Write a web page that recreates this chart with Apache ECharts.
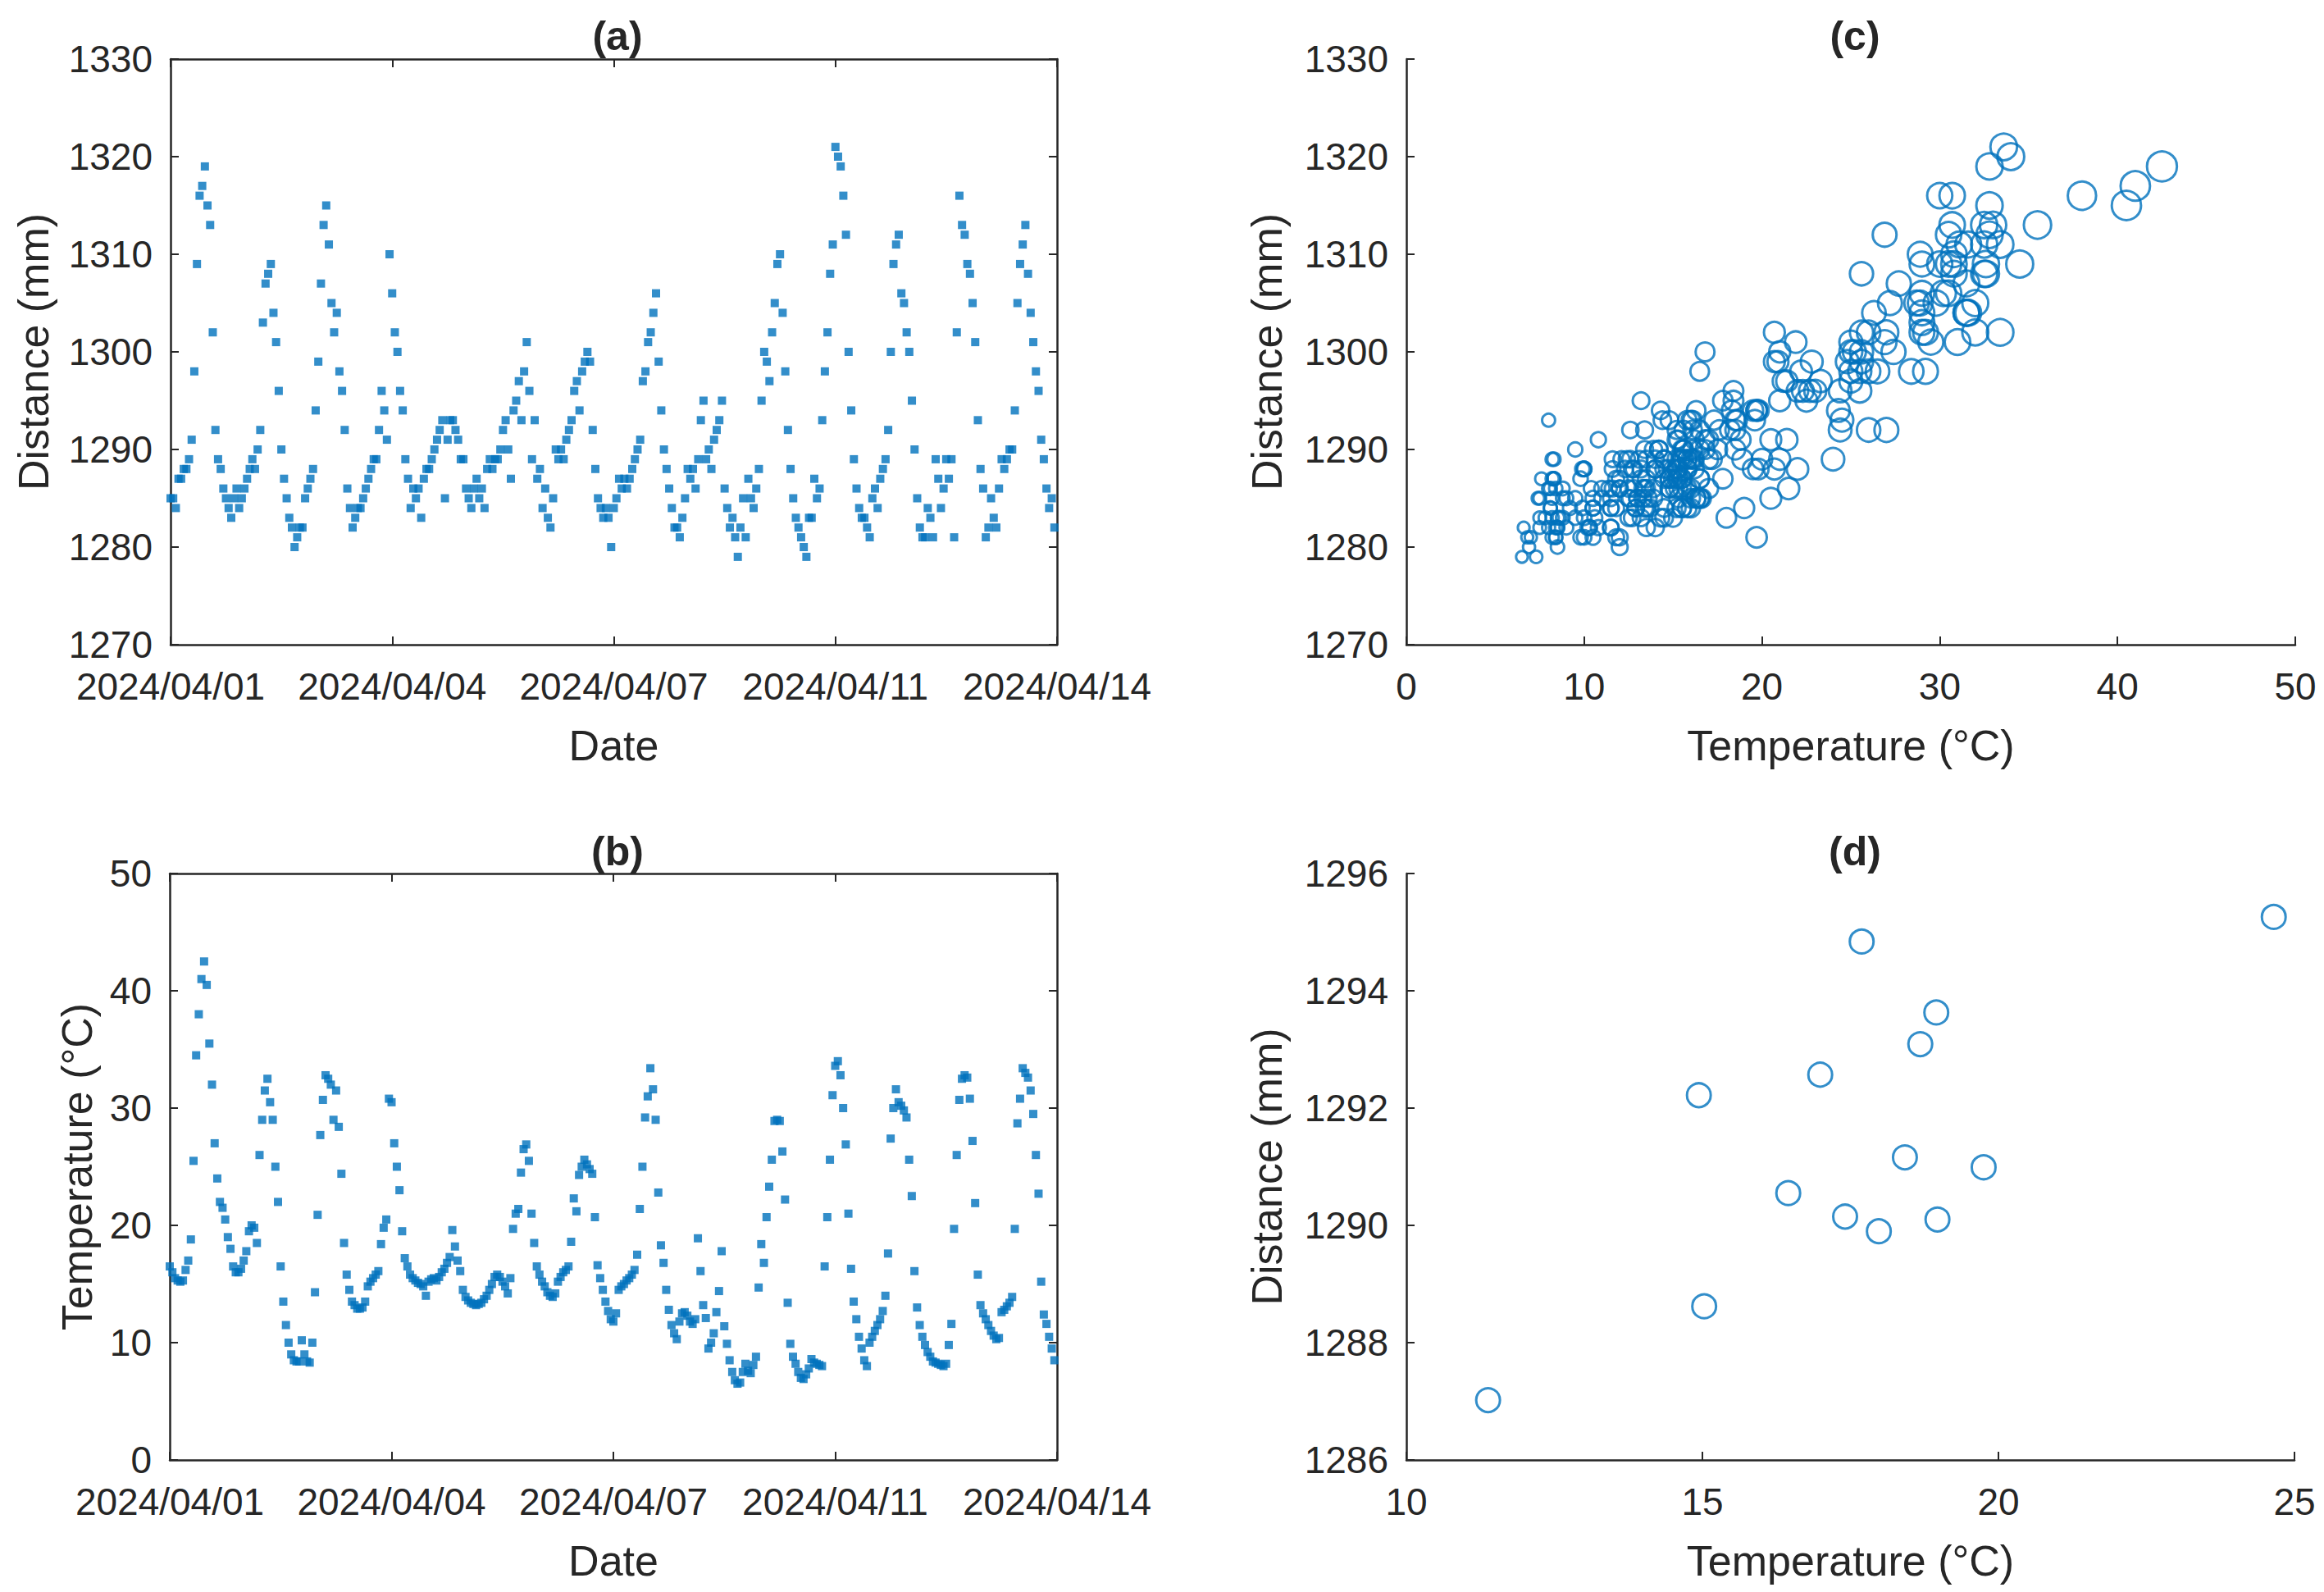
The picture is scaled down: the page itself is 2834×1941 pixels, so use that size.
<!DOCTYPE html>
<html>
<head>
<meta charset="utf-8">
<title>Distance and temperature</title>
<script src="https://cdn.jsdelivr.net/npm/echarts@6/dist/echarts.min.js"></script>
<style>
  html, body { margin: 0; padding: 0; background: #fff; }
  #chart { width: 2834px; height: 1941px; }
</style>
</head>
<body>
<div id="chart"></div>
<script>
// hourly samples, 2024/04/01 00:00 onwards (index = hour)
const dateTicks = ['2024/04/01', '2024/04/04', '2024/04/07', '2024/04/11', '2024/04/14']

const distance = [
  1285,1285,1284,1287,1287,1288,1288,1289,1291,1298,1309,1316,1317,1319,1315,1313,1302,1292,1289,1288,1286,1285,1284,1283,
  1285,1286,1284,1285,1286,1287,1288,1289,1288,1290,1292,1303,1307,1308,1309,1304,1301,1296,1290,1287,1285,1283,1282,1280,
  1281,1282,1282,1285,1286,1287,1288,1294,1299,1307,1313,1315,1311,1305,1302,1304,1298,1296,1292,1286,1284,1282,1283,1284,
  1284,1285,1286,1287,1288,1289,1289,1292,1296,1294,1291,1310,1306,1302,1300,1296,1294,1289,1287,1284,1286,1285,1286,1283,
  1287,1288,1288,1289,1290,1291,1292,1293,1285,1291,1293,1293,1292,1291,1289,1289,1286,1285,1284,1286,1287,1285,1286,1284,
  1288,1289,1288,1289,1289,1290,1292,1293,1290,1287,1294,1295,1297,1293,1298,1301,1296,1289,1293,1287,1288,1284,1286,1283,
  1282,1285,1290,1289,1290,1289,1291,1292,1293,1296,1297,1294,1298,1299,1300,1299,1292,1288,1285,1284,1283,1284,1283,1280,
  1284,1285,1287,1286,1287,1286,1287,1288,1289,1290,1291,1297,1298,1301,1302,1304,1306,1299,1294,1290,1288,1286,1284,1282,
  1282,1281,1283,1285,1288,1287,1288,1286,1289,1293,1295,1289,1290,1288,1291,1292,1293,1295,1286,1284,1282,1283,1281,1279,
  1282,1285,1281,1287,1285,1284,1286,1288,1295,1300,1299,1297,1302,1305,1309,1310,1304,1298,1292,1288,1285,1283,1282,1281,
  1280,1279,1283,1283,1287,1285,1286,1293,1298,1302,1308,1311,1321,1320,1319,1316,1312,1300,1294,1289,1286,1284,1283,1283,
  1282,1281,1285,1286,1284,1287,1288,1289,1292,1300,1309,1311,1312,1306,1305,1302,1300,1295,1290,1285,1282,1281,1281,1284,
  1283,1281,1289,1287,1284,1286,1289,1287,1289,1281,1302,1316,1313,1312,1309,1308,1305,1301,1293,1288,1286,1281,1282,1285,
  1283,1282,1286,1289,1288,1289,1290,1290,1294,1305,1309,1311,1313,1308,1304,1301,1298,1296,1291,1289,1286,1284,1285,1282
]

const temperature = [
  16.5,16,15.5,15.3,15.2,15.3,16.2,17,18.8,25.5,34.5,38,41,42.5,40.5,35.5,32,27,24,22,21.5,20.5,19,18,
  16.5,16,16,16.3,17,17.8,19.5,20,19.8,18.5,26,29,31.5,32.5,30.5,29,25,22,16.5,13.5,11.5,10,9,8.5,
  8.4,8.4,10.2,9,8.4,8.3,10,14.3,20.9,27.7,30.7,32.8,32.5,32,29,31.5,28.4,24.4,18.5,15.8,14.5,13.5,13.2,12.9,
  12.9,13,13.5,14.8,15.2,15.5,15.8,16.1,18.4,19.8,20.5,30.8,30.5,27,25,23,19.5,17.2,16.5,15.8,15.5,15.3,15.1,15,
  14.8,14,15.2,15.4,15.5,15.3,15.6,16,16.3,16.8,17.3,19.6,18.2,17,16.1,14.5,13.9,13.6,13.4,13.3,13.2,13.3,13.4,13.7,
  14,14.5,15,15.6,15.8,15.6,15.2,14.8,14.2,15.5,19.7,21,21.4,24.5,26.5,26.9,25.5,21,18.5,16.5,15.8,15.2,14.8,14.3,
  14,13.9,14.2,15.2,15.6,16,16.2,16.5,18.6,22.3,21.2,24.3,25,25.6,25.2,24.8,24.4,20.7,16.6,15.5,14.5,13.5,12.7,12,
  11.8,12.5,14.5,14.8,15,15.3,15.5,15.8,16.2,17.5,21.4,25,29.2,31,33.4,31.6,29,22.8,18.3,16.8,14.5,12.8,11.5,10.8,
  10.3,11.8,12.5,12.6,12.3,11.8,11.6,12,18.9,16.1,13.2,12.1,9.5,10,10.8,12.6,14.4,17.8,11.4,9.9,8.5,7.5,6.8,6.5,
  6.6,7.5,8.2,7.6,7.4,8.1,8.8,14.7,18.4,16.8,20.7,23.3,25.6,28.9,29,28.9,26.3,22.2,13.4,9.9,8.8,8.2,7.5,7,
  6.9,7.3,7.8,8.6,8.3,8.2,8.1,8,16.5,20.7,25.6,31.1,33.6,34,32.8,30,26.9,21,16.3,13.5,12,10.5,9.5,8.5,
  8,10,10.5,11,11.5,12,12.7,14,17.6,27.4,30,31.6,30.5,30.2,29.8,29.2,25.6,22.5,16.1,13,11.5,10.5,9.8,9.2,
  8.8,8.4,8.3,8.2,8.1,8,8.2,9.8,11.6,19.7,26,30.7,32.5,32.8,32.6,30.8,27.2,21.9,15.8,13.2,12.5,12,11.5,11,
  10.6,10.3,10.4,12.6,12.8,13.1,13.4,13.9,19.7,28.7,30.8,33.4,33,32.6,31.5,29.5,26,22.7,15.2,12.4,11.6,10.5,9.5,8.5
]

// panel (d)
const dTemperature = [11.38, 14.94, 15.03, 16.45, 16.99, 17.41, 17.69, 17.98, 18.42, 18.68, 18.95, 18.97, 19.75, 24.65]
const dDistance = [1287.02, 1292.22, 1288.62, 1290.55, 1292.57, 1290.15, 1294.84, 1289.90, 1291.16, 1293.09, 1293.63, 1290.10, 1290.99, 1295.26]

const ink = '#262626'
const blue = '#0072BD'
const font = '"Liberation Sans", Arial, Helvetica, sans-serif'

function axis(extra) {
  return Object.assign({
    type: 'value',
    axisLine: { show: true, onZero: false, lineStyle: { color: ink, width: 2.5 } },
    axisTick: { show: true, inside: true, length: 10, lineStyle: { color: ink, width: 2 } },
    axisLabel: { color: ink, fontSize: 46, fontFamily: font },
    splitLine: { show: false },
    nameLocation: 'middle',
    nameTextStyle: { color: ink, fontSize: 52, fontFamily: font }
  }, extra)
}

function mirror(extra) {
  return axis(Object.assign({ axisLabel: { show: false } }, extra))
}

const labelBase = { color: ink, fontSize: 46, fontFamily: font, showMinLabel: true, showMaxLabel: true, hideOverlap: false }
const dateLabel = Object.assign({}, labelBase, { margin: 28, formatter: v => dateTicks[Math.round(v / 84)] })
const yLabel = Object.assign({}, labelBase, { margin: 22, formatter: v => String(v) })
const xLabel = Object.assign({}, labelBase, { margin: 28, formatter: v => String(v) })

const titleStyle = { color: ink, fontSize: 50, fontWeight: 'bold', fontFamily: font }

const chart = echarts.init(document.getElementById('chart'), null, { renderer: 'svg' })

chart.setOption({
  animation: false,
  backgroundColor: '#fff',
  title: [
    { text: '(a)', left: 748, top: 14, textAlign: 'center', textStyle: titleStyle },
    { text: '(b)', left: 748, top: 1008, textAlign: 'center', textStyle: titleStyle },
    { text: '(c)', left: 2257, top: 14, textAlign: 'center', textStyle: titleStyle },
    { text: '(d)', left: 2257, top: 1008, textAlign: 'center', textStyle: titleStyle }
  ],
  grid: [
    { left: 208, top: 72, width: 1081, height: 714 },
    { left: 207, top: 1065, width: 1082, height: 715 },
    { left: 1715, top: 72, width: 1084, height: 714 },
    { left: 1715, top: 1065, width: 1083, height: 715 }
  ],
  xAxis: [
    axis({ gridIndex: 0, min: 0, max: 336, interval: 84, name: 'Date', nameGap: 97, axisLabel: dateLabel }),
    axis({ gridIndex: 1, min: 0, max: 336, interval: 84, name: 'Date', nameGap: 97, axisLabel: dateLabel }),
    axis({ gridIndex: 2, min: 0, max: 50, interval: 10, name: 'Temperature (°C)', nameGap: 97, axisLabel: xLabel }),
    axis({ gridIndex: 3, min: 10, max: 25, interval: 5, name: 'Temperature (°C)', nameGap: 97, axisLabel: xLabel }),
    mirror({ gridIndex: 0, position: 'top', min: 0, max: 336, interval: 84 }),
    mirror({ gridIndex: 1, position: 'top', min: 0, max: 336, interval: 84 })
  ],
  yAxis: [
    axis({ gridIndex: 0, min: 1270, max: 1330, interval: 10, name: 'Distance (mm)', nameGap: 141, axisLabel: yLabel }),
    axis({ gridIndex: 1, min: 0, max: 50, interval: 10, name: 'Temperature (°C)', nameGap: 87, axisLabel: yLabel }),
    axis({ gridIndex: 2, min: 1270, max: 1330, interval: 10, name: 'Distance (mm)', nameGap: 144, axisLabel: yLabel }),
    axis({ gridIndex: 3, min: 1286, max: 1296, interval: 2, name: 'Distance (mm)', nameGap: 144, axisLabel: yLabel }),
    mirror({ gridIndex: 0, position: 'right', min: 1270, max: 1330, interval: 10 }),
    mirror({ gridIndex: 1, position: 'right', min: 0, max: 50, interval: 10 })
  ],
  series: [
    {
      type: 'scatter', xAxisIndex: 0, yAxisIndex: 0,
      symbol: 'rect', symbolSize: 10,
      itemStyle: { color: blue },
      data: distance.map((d, i) => [i, d])
    },
    {
      type: 'scatter', xAxisIndex: 1, yAxisIndex: 1,
      symbol: 'rect', symbolSize: 10,
      itemStyle: { color: blue },
      data: temperature.map((t, i) => [i, t])
    },
    {
      // marker area grows with temperature
      type: 'scatter', xAxisIndex: 2, yAxisIndex: 2,
      symbol: 'circle',
      symbolSize: v => 5.6 * Math.sqrt(v[0]),
      itemStyle: { color: 'rgba(0,0,0,0)', borderColor: blue, borderWidth: 3 },
      data: temperature.map((t, i) => [t, distance[i]])
    },
    {
      type: 'scatter', xAxisIndex: 3, yAxisIndex: 3,
      symbol: 'circle', symbolSize: 29,
      itemStyle: { color: 'rgba(0,0,0,0)', borderColor: blue, borderWidth: 3 },
      data: dTemperature.map((t, i) => [t, dDistance[i]])
    }
  ]
})
</script>
</body>
</html>
